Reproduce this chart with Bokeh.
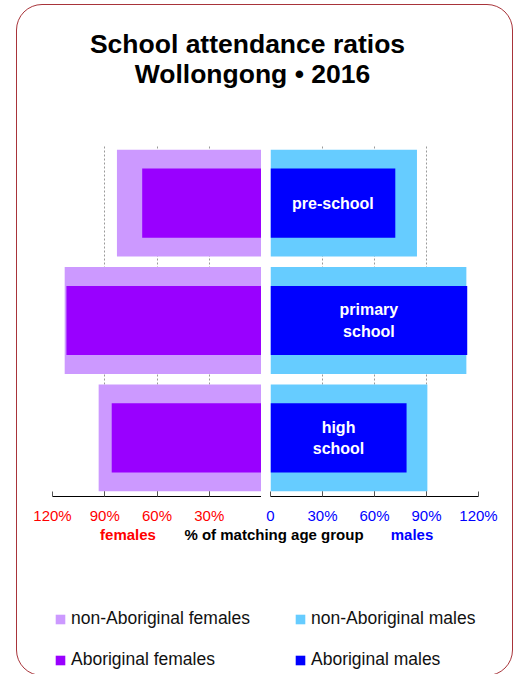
from bokeh.plotting import figure
from bokeh.models import Range1d, FactorRange, FixedTicker, ColumnDataSource, Legend, LegendItem, Label
from bokeh.layouts import column, row
from bokeh.embed import file_html
from bokeh.resources import INLINE
from bokeh.core.properties import value

# ---------------- data ----------------
categories = ["pre-school", "primary school", "high school"]
category_labels = ["pre-school", "primary\nschool", "high\nschool"]
non_aboriginal_females = [83.0, 113.0, 93.5]
aboriginal_females = [68.5, 112.0, 86.0]
non_aboriginal_males = [84.5, 113.0, 90.5]
aboriginal_males = [72.0, 113.5, 78.5]
female_ticks = [120, 90, 60, 30]
female_tick_labels = ["120%", "90%", "60%", "30%"]
male_ticks = [0, 30, 60, 90, 120]
male_tick_labels = ["0", "30%", "60%", "90%", "120%"]
title_lines = ["School attendance ratios", "Wollongong \u2022 2016"]
legend_labels = ["non-Aboriginal females", "Aboriginal females",
                 "non-Aboriginal males", "Aboriginal males"]

C_NF, C_AF, C_NM, C_AM = "#CC99FF", "#9900FF", "#66CCFF", "#0000FF"
FONT = "Liberation Sans"

src = ColumnDataSource(dict(
    cat=categories, label=category_labels,
    nf=non_aboriginal_females, af=aboriginal_females,
    nm=non_aboriginal_males, am=aboriginal_males,
    am_mid=[v / 2 for v in aboriginal_males],
))
y_factors = list(reversed(categories))


def bar_fig(x_range, frame_w, mbl, mbr, ticks, labels, color):
    p = figure(y_range=FactorRange(factors=y_factors), x_range=x_range,
               frame_width=frame_w, frame_height=352,
               min_border_left=mbl, min_border_right=mbr,
               min_border_top=35, min_border_bottom=27,
               toolbar_location=None, output_backend="svg",
               y_axis_location=None, outline_line_color=None,
               border_fill_alpha=0)
    p.ygrid.grid_line_color = None
    p.xgrid.grid_line_color = "#9a9a9a"
    p.xgrid.grid_line_dash = "2 2"
    p.xgrid.ticker = FixedTicker(ticks=[t for t in ticks if t != 0])
    ax = p.xaxis[0]
    ax.ticker = FixedTicker(ticks=ticks)
    ax.major_label_overrides = {t: l for t, l in zip(ticks, labels)}
    ax.axis_line_color = "black"
    ax.major_tick_in = 5
    ax.major_tick_out = 0
    ax.major_tick_line_color = "#555555"
    ax.minor_tick_line_color = None
    ax.major_label_standoff = 10
    ax.major_label_text_font = FONT
    ax.major_label_text_font_size = "15px"
    ax.major_label_text_color = color
    return p


left = bar_fig(Range1d(start=120, end=0), 209, 35, 0, female_ticks, female_tick_labels, "#FF0000")
left.hbar(y="cat", left=0, right="nf", height=0.91, source=src, fill_color=C_NF, line_color=None)
left.hbar(y="cat", left=0, right="af", height=0.59, source=src, fill_color=C_AF, line_color=None)

right = bar_fig(Range1d(start=0, end=120), 208, 9, 20, male_ticks, male_tick_labels, "#0000FF")
right.hbar(y="cat", left=0, right="nm", height=0.91, source=src, fill_color=C_NM, line_color=None)
right.hbar(y="cat", left=0, right="am", height=0.59, source=src, fill_color=C_AM, line_color=None)
right.text(x="am_mid", y="cat", text="label", source=src, text_color="white",
           text_font=value(FONT), text_font_style="bold", text_font_size="16px",
           text_align="center", text_baseline="middle", text_line_height=1.25)


def blank_fig(h):
    p = figure(width=495, height=h, x_range=Range1d(0, 495), y_range=Range1d(h, 0),
               toolbar_location=None, output_backend="svg", min_border=0,
               x_axis_location=None, y_axis_location=None, outline_line_color=None,
               border_fill_alpha=0, background_fill_alpha=0)
    p.grid.visible = False
    return p


top = blank_fig(104)
for txt, xc, yb in zip(title_lines, [230, 235], [38, 68]):
    top.add_layout(Label(x=xc, y=yb, text=txt, text_align="center", text_baseline="alphabetic",
                         text_font=FONT, text_font_style="bold", text_font_size="26.5px",
                         text_color="black"))

bottom = blank_fig(149)
for txt, xc, col in zip(["females", "% of matching age group", "males"],
                        [110.5, 256.5, 394.5], ["#FF0000", "black", "#0000FF"]):
    bottom.add_layout(Label(x=xc, y=8, text=txt, text_align="center", text_baseline="alphabetic",
                            text_font=FONT, text_font_style="bold", text_font_size="15px",
                            text_color=col))

nan = float("nan")
colors = [C_NF, C_AF, C_NM, C_AM]
rends = [bottom.quad(left=[nan], right=[nan], top=[nan], bottom=[nan], fill_color=c, line_color=None)
         for c in colors]
for idx, xloc in [((0, 1), 37), ((2, 3), 277)]:
    lg = Legend(items=[LegendItem(label=legend_labels[i], renderers=[rends[i]]) for i in idx],
                location=(xloc, 5), orientation="vertical",
                glyph_width=12, glyph_height=12, label_standoff=5,
                label_text_font=FONT, label_text_font_size="17.5px", label_text_color="#111111",
                label_height=20, spacing=20, padding=0, margin=0,
                border_line_color=None, background_fill_alpha=0)
    bottom.add_layout(lg)

layout = column(top, row(left, right), bottom, margin=(4, 0, 0, 16),
                styles={"border": "1px solid #A8343A", "border-radius": "26px"})

open("out.html", "w").write(file_html(layout, INLINE))
